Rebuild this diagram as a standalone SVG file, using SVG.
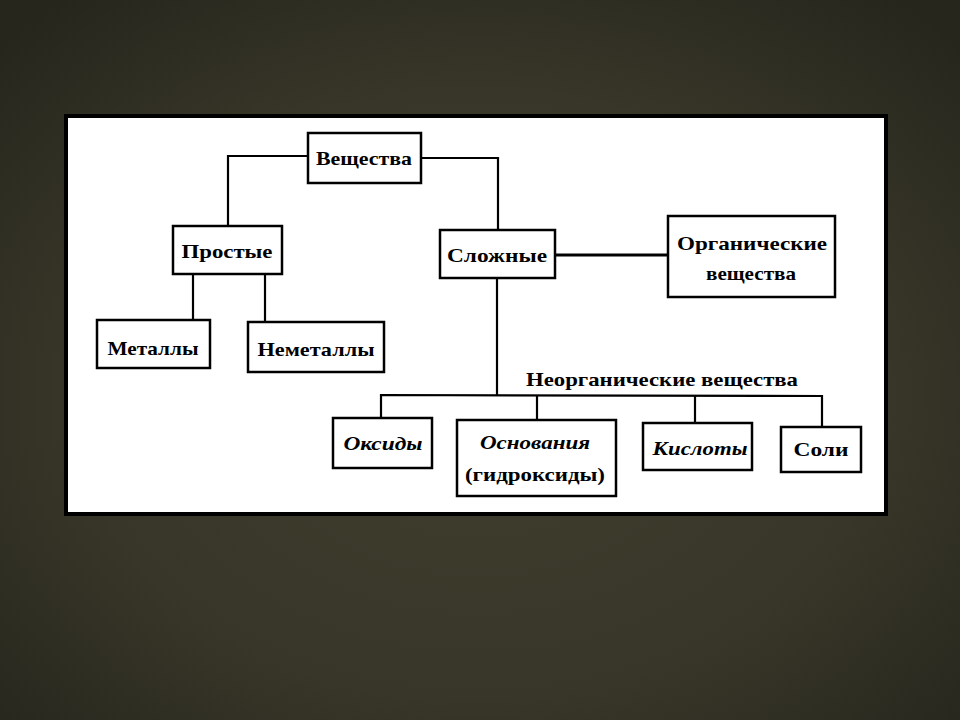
<svg xmlns="http://www.w3.org/2000/svg" width="960" height="720" viewBox="0 0 960 720">
<defs>
<radialGradient id="bg" cx="50%" cy="55%" r="70%">
<stop offset="0" stop-color="#403e2e"/>
<stop offset="0.6" stop-color="#383628"/>
<stop offset="1" stop-color="#26261d"/>
</radialGradient>
<style>
.box{fill:#fff;stroke:#000;stroke-width:2.5}
.ln{fill:none;stroke:#000;stroke-width:2.2}
.t{font-family:"Liberation Serif","DejaVu Serif",serif;font-weight:bold;font-size:19px;fill:#000;text-anchor:middle}
.i{font-style:italic}
</style>
</defs>
<rect x="0" y="0" width="960" height="720" fill="url(#bg)"/>
<rect x="66" y="116" width="820" height="398" fill="#fff" stroke="#000" stroke-width="4"/>
<g id="connectors">
<polyline class="ln" points="308,156 228,156 228,226"/>
<polyline class="ln" points="421,158 498,158 498,230"/>
<line class="ln" x1="193" y1="274" x2="193" y2="320"/>
<line class="ln" x1="265" y1="274" x2="265" y2="322"/>
<line class="ln" x1="555" y1="255" x2="668" y2="255" style="stroke-width:3"/>
<line class="ln" x1="497" y1="278" x2="497" y2="395"/>
<polyline class="ln" points="381,418 381,395 822,396 822,427"/>
<line class="ln" x1="537" y1="395" x2="537" y2="420"/>
<line class="ln" x1="695" y1="396" x2="695" y2="423"/>
</g>
<g id="veshchestva"><rect class="box" x="308" y="133" width="113" height="50"/><text class="t" x="364" y="165" textLength="96" lengthAdjust="spacingAndGlyphs">Вещества</text></g>
<g id="prostye"><rect class="box" x="173" y="226" width="109" height="48"/><text class="t" x="227" y="258" textLength="91" lengthAdjust="spacingAndGlyphs">Простые</text></g>
<g id="slozhnye"><rect class="box" x="440" y="230" width="115" height="48"/><text class="t" x="497" y="262" textLength="100" lengthAdjust="spacingAndGlyphs">Сложные</text></g>
<g id="organic"><rect class="box" x="668" y="216" width="167" height="81"/><text class="t" x="752" y="250" textLength="150" lengthAdjust="spacingAndGlyphs">Органические</text><text class="t" x="751" y="280" textLength="90" lengthAdjust="spacingAndGlyphs">вещества</text></g>
<g id="metally"><rect class="box" x="97" y="320" width="113" height="48"/><text class="t" x="153" y="355" textLength="91" lengthAdjust="spacingAndGlyphs">Металлы</text></g>
<g id="nemetally"><rect class="box" x="248" y="322" width="136" height="50"/><text class="t" x="316" y="356" textLength="117" lengthAdjust="spacingAndGlyphs">Неметаллы</text></g>
<g id="inorganic-label"><text class="t" x="662" y="386" textLength="272" lengthAdjust="spacingAndGlyphs">Неорганические вещества</text></g>
<g id="oksidy"><rect class="box" x="333" y="418" width="99" height="50"/><text class="t i" x="383" y="450" textLength="79" lengthAdjust="spacingAndGlyphs">Оксиды</text></g>
<g id="osnovaniya"><rect class="box" x="457" y="420" width="159" height="76"/><text class="t i" x="535" y="449" textLength="110" lengthAdjust="spacingAndGlyphs">Основания</text><text class="t" x="535" y="481" textLength="140" lengthAdjust="spacingAndGlyphs">(гидроксиды)</text></g>
<g id="kisloty"><rect class="box" x="643" y="423" width="109" height="47"/><text class="t i" x="700" y="455" textLength="95" lengthAdjust="spacingAndGlyphs">Кислоты</text></g>
<g id="soli"><rect class="box" x="781" y="427" width="80" height="45"/><text class="t" x="821" y="456" textLength="55" lengthAdjust="spacingAndGlyphs">Соли</text></g>
</svg>
